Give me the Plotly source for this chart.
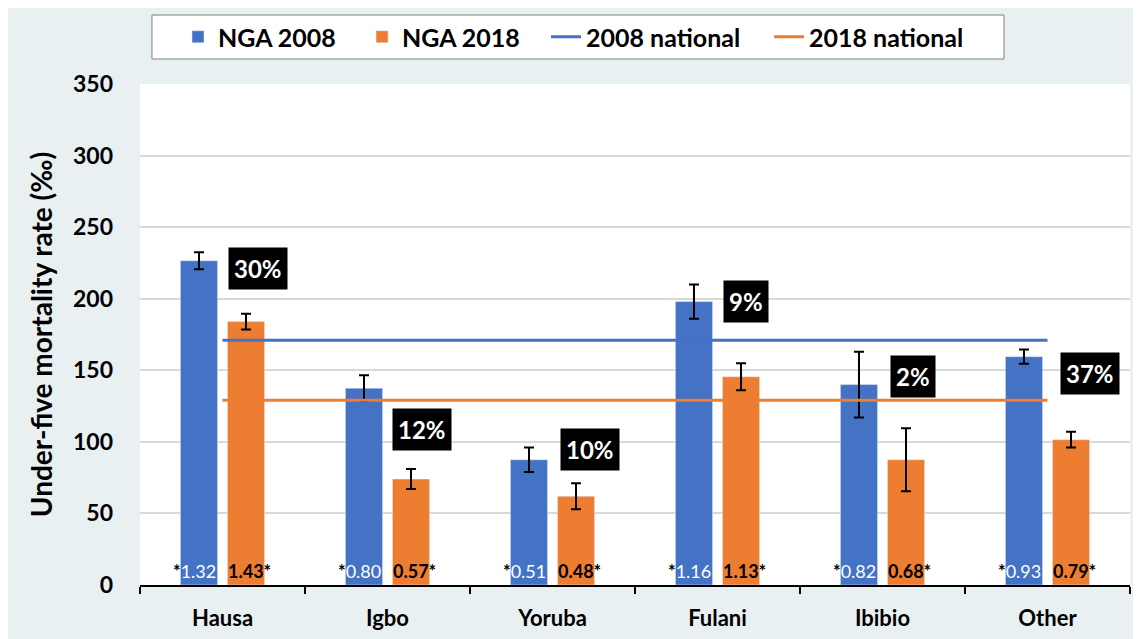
import plotly.graph_objects as go

# ---- data ----
ethnic_groups = ["Hausa", "Igbo", "Yoruba", "Fulani", "Ibibio", "Other"]
u5mr_2008 = [226.5, 137.5, 87.5, 198, 140, 159.5]
u5mr_2018 = [184, 74, 62, 145.5, 87.5, 101.5]
err_2008 = [6, 9, 8.5, 12, 23, 5]
err_2018 = [5.5, 7, 9, 9.5, 22, 5.5]
national_2008 = 171
national_2018 = 129
ratio_2008 = ["1.32", "0.80", "0.51", "1.16", "0.82", "0.93"]
ratio_2018 = ["1.43", "0.57", "0.48", "1.13", "0.68", "0.79"]
pct_labels = ["30%", "12%", "10%", "9%", "2%", "37%"]

# label placement (layout only)
pct_y = [221, 108.5, 94.5, 198, 146, 147.5]
pct_xshift = [35, 34.5, 37.5, 28, 30, 42]
legend_x = [0.0384, 0.2243, 0.4101, 0.6354]

BLUE = "#4472C4"
ORANGE = "#ED7D31"
FONT = "Lato"
BG = "#E9F0F2"

fig = go.Figure()
fig.add_trace(go.Bar(
    name="NGA 2008", x=ethnic_groups, y=u5mr_2008, marker_color=BLUE,
    error_y=dict(type="data", array=err_2008, color="black", thickness=2, width=5),
    legend="legend",
))
fig.add_trace(go.Bar(
    name="NGA 2018", x=ethnic_groups, y=u5mr_2018, marker_color=ORANGE,
    error_y=dict(type="data", array=err_2018, color="black", thickness=2, width=5),
    legend="legend2",
))
fig.add_trace(go.Scatter(
    name="2008 national", x=ethnic_groups, y=[national_2008] * len(ethnic_groups),
    mode="lines", line=dict(color=BLUE, width=3), legend="legend3",
))
fig.add_trace(go.Scatter(
    name="2018 national", x=ethnic_groups, y=[national_2018] * len(ethnic_groups),
    mode="lines", line=dict(color=ORANGE, width=3), legend="legend4",
))

annotations = []
for i, g in enumerate(ethnic_groups):
    annotations.append(dict(
        x=g, y=pct_y[i], xref="x", yref="y", xshift=pct_xshift[i],
        text=pct_labels[i], showarrow=False, height=31,
        font=dict(family=FONT, size=24, color="white", weight="bold"),
        bgcolor="black", borderpad=5,
    ))
    annotations.append(dict(
        x=g, y=0, xref="x", yref="y", xshift=-5, yshift=1,
        xanchor="right", yanchor="bottom",
        text="<span style='color:black;font-weight:bold'>*</span>" + ratio_2008[i],
        showarrow=False,
        font=dict(family=FONT, size=18, color="white"),
    ))
    annotations.append(dict(
        x=g, y=0, xref="x", yref="y", xshift=3, yshift=1,
        xanchor="left", yanchor="bottom",
        text=ratio_2018[i] + "*", showarrow=False,
        font=dict(family=FONT, size=18, color="black", weight="bold"),
    ))

legend_common = dict(
    orientation="h", xanchor="left", y=1.0938, yanchor="middle",
    bgcolor="rgba(0,0,0,0)", borderwidth=0,
    font=dict(family=FONT, size=25, color="black", weight="bold"),
)

fig.update_layout(
    width=1133, height=631,
    margin=dict(l=132, r=11, t=76, b=54, autoexpand=False),
    paper_bgcolor=BG, plot_bgcolor="white",
    barmode="group", bargap=0.43, bargroupgap=0.21,
    font=dict(family=FONT, color="black"),
    showlegend=True,
    legend=dict(x=legend_x[0], **legend_common),
    legend2=dict(x=legend_x[1], **legend_common),
    legend3=dict(x=legend_x[2], **legend_common),
    legend4=dict(x=legend_x[3], **legend_common),
    shapes=[dict(
        type="rect", xref="paper", yref="paper",
        x0=0.0121, x1=0.8727, y0=1.0499, y1=1.1377,
        line=dict(color="#7F7F7F", width=1), fillcolor="white", layer="above",
    )],
    annotations=annotations,
)
fig.update_yaxes(
    range=[0, 350], dtick=50, showgrid=True, gridcolor="#D9D9D9", gridwidth=1.5,
    zeroline=False, showline=False,
    tickfont=dict(family=FONT, size=23, color="black", weight="bold"),
    ticklabelstandoff=26,
    title=dict(text="Under-five mortality rate (‰)", standoff=12,
               font=dict(family=FONT, size=28, color="black", weight="bold")),
)
fig.update_xaxes(
    showline=True, linecolor="black", linewidth=1.5,
    ticks="outside", tickson="boundaries", ticklen=7, tickwidth=1.5, tickcolor="black",
    tickfont=dict(family=FONT, size=22, color="black", weight="bold"),
    ticklabelstandoff=13,
    showgrid=False,
)

fig.write_html("out.html")
